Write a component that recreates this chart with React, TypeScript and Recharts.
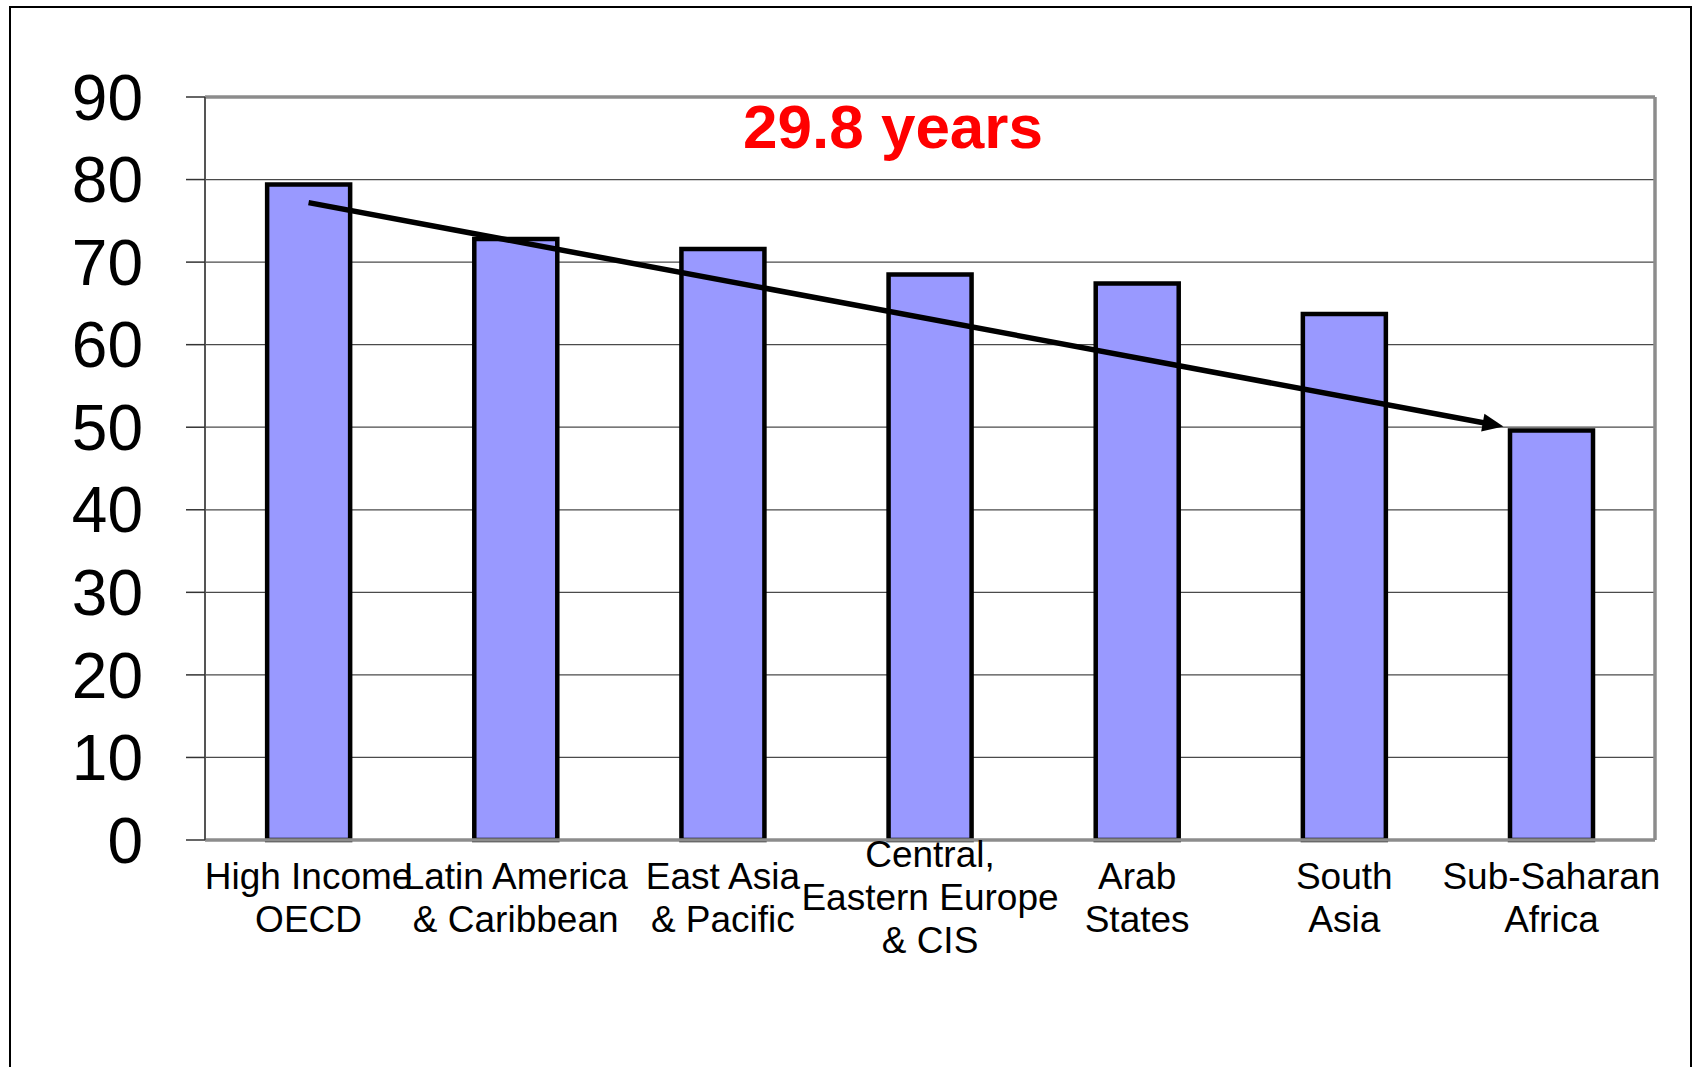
import React from 'react';
import { BarChart, Bar, XAxis, YAxis, CartesianGrid, ReferenceLine } from 'recharts';

const regions = [
  'High Income OECD',
  'Latin America & Caribbean',
  'East Asia & Pacific',
  'Central, Eastern Europe & CIS',
  'Arab States',
  'South Asia',
  'Sub-Saharan Africa',
];
const regionLines = [
  ['High Income', 'OECD'],
  ['Latin America', '& Caribbean'],
  ['East Asia', '& Pacific'],
  ['Central,', 'Eastern Europe', '& CIS'],
  ['Arab', 'States'],
  ['South', 'Asia'],
  ['Sub-Saharan', 'Africa'],
];
const lifeExpectancy = [79.4, 72.8, 71.6, 68.5, 67.4, 63.7, 49.6];
const yTicks = [0, 10, 20, 30, 40, 50, 60, 70, 80, 90];
const gapLabel = '29.8 years';
// trend arrow, from the first region to the last one
const arrowFrom = 77.2;
const arrowTo = 49.0;

const FONT = '"Liberation Sans", Arial, Helvetica, sans-serif';

const data = regions.map((region, i) => ({ region, value: lifeExpectancy[i] }));

function RegionTick(props: any) {
  const { x, y, payload } = props;
  const idx = regions.indexOf(payload.value);
  const lines = idx >= 0 ? regionLines[idx] : [payload.value];
  const lh = 43;
  const first = 57 - ((lines.length - 1) * lh) / 2 + 13;
  return (
    <text x={x} y={y} textAnchor="middle" fontSize={37} fill="#000" fontFamily={FONT}>
      {lines.map((l: string, i: number) => (
        <tspan key={i} x={x} y={y + first + i * lh}>
          {l}
        </tspan>
      ))}
    </text>
  );
}

function ArrowShape(props: any) {
  const { x1, y1, x2, y2 } = props;
  if ([x1, y1, x2, y2].some((v) => typeof v !== 'number' || isNaN(v))) return <g />;
  // stop the arrow just before the last bar
  const ex = x2 - 48;
  const ey = y1 + ((y2 - y1) * (ex - x1)) / (x2 - x1);
  const ang = Math.atan2(ey - y1, ex - x1);
  const head = 21;
  const half = 9;
  const c = Math.cos(ang);
  const s = Math.sin(ang);
  const bx = ex - head * c;
  const by = ey - head * s;
  const pts = `${ex},${ey} ${bx - half * s},${by + half * c} ${bx + half * s},${by - half * c}`;
  return (
    <g>
      <line x1={x1} y1={y1} x2={bx + 2 * c} y2={by + 2 * s} stroke="#000" strokeWidth={5.5} />
      <polygon points={pts} fill="#000" />
    </g>
  );
}

export default function App() {
  return (
    <div style={{ position: 'fixed', inset: 0, background: '#fff', overflow: 'hidden' }}>
      <div
        style={{
          position: 'absolute',
          left: 9,
          top: 6,
          width: 1679,
          height: 1200,
          border: '2px solid #000',
        }}
      />
      <div style={{ position: 'absolute', left: 0, top: 0 }}>
        <BarChart
          width={1694}
          height={1067}
          data={data}
          margin={{ top: 96, right: 38, bottom: 0, left: 0 }}
          barCategoryGap="30%"
        >
          <CartesianGrid vertical={false} stroke="#4a4a4a" strokeWidth={1.2} />
          <XAxis
            dataKey="region"
            height={227}
            interval={0}
            tickLine={false}
            tickSize={0}
            tickMargin={0}
            tick={<RegionTick />}
            axisLine={{ stroke: '#8c8c8c', strokeWidth: 3.5 }}
          />
          <XAxis
            xAxisId="top"
            dataKey="region"
            orientation="top"
            height={1}
            tick={false}
            tickLine={false}
            axisLine={{ stroke: '#8c8c8c', strokeWidth: 3.5 }}
          />
          <YAxis
            width={205}
            domain={[0, 90]}
            ticks={yTicks}
            interval={0}
            tickSize={19}
            tickMargin={43}
            tickLine={{ stroke: '#333', strokeWidth: 1.5 }}
            axisLine={{ stroke: '#555', strokeWidth: 2 }}
            tick={{ fontSize: 64, fill: '#000', fontFamily: FONT }}
          />
          <YAxis
            yAxisId="right"
            orientation="right"
            width={1}
            domain={[0, 90]}
            tick={false}
            tickLine={false}
            axisLine={{ stroke: '#8c8c8c', strokeWidth: 3.5 }}
          />
          <Bar
            dataKey="value"
            fill="#9999FF"
            stroke="#000"
            strokeWidth={4.5}
            isAnimationActive={false}
          />
          <ReferenceLine
            segment={[
              { x: regions[0], y: arrowFrom },
              { x: regions[regions.length - 1], y: arrowTo },
            ]}
            ifOverflow="visible"
            shape={ArrowShape}
          />
        </BarChart>
      </div>
      <svg
        width={1694}
        height={1067}
        style={{ position: 'absolute', left: 0, top: 0, pointerEvents: 'none' }}
      >
        <text
          x={893}
          y={148}
          textAnchor="middle"
          fontSize={62}
          fontWeight="bold"
          fill="#ff0000"
          fontFamily={FONT}
        >
          {gapLabel}
        </text>
      </svg>
    </div>
  );
}
